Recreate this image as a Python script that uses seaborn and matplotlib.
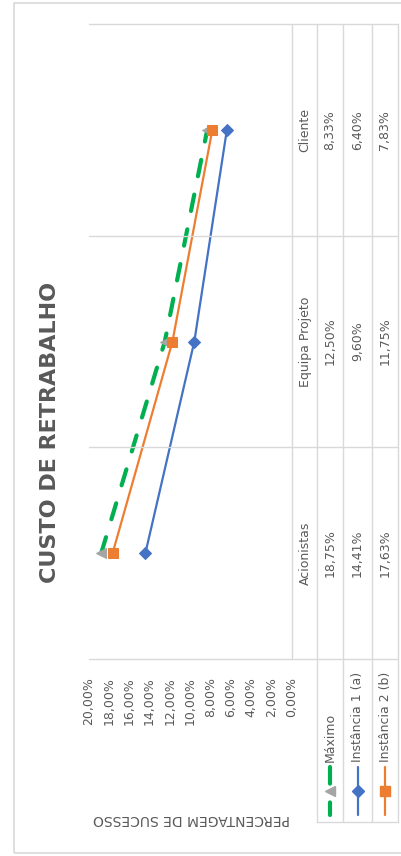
import matplotlib
matplotlib.use("Agg")
import matplotlib.pyplot as plt
from matplotlib.lines import Line2D
from matplotlib.patches import Rectangle
from matplotlib import transforms
import seaborn as sns
import pandas as pd

# ---- data ----
categorias = ["Acionistas", "Equipa Projeto", "Cliente"]
series = ["Máximo", "Instância 1 (a)", "Instância 2 (b)"]
maximo = [18.75, 12.50, 8.33]
instancia1 = [14.41, 9.60, 6.40]
instancia2 = [17.63, 11.75, 7.83]
ticks_pct = [0, 2, 4, 6, 8, 10, 12, 14, 16, 18, 20]
titulo = "CUSTO DE RETRABALHO"
titulo_eixo = "PERCENTAGEM DE SUCESSO"

valores = {"Máximo": maximo, "Instância 1 (a)": instancia1, "Instância 2 (b)": instancia2}
linhas = []
for s in series:
    for i, (c, v) in enumerate(zip(categorias, valores[s])):
        linhas.append({"serie": s, "categoria": c, "pos": i, "valor": v})
df = pd.DataFrame(linhas)

def pct(v):
    return f"{v:.2f}".replace(".", ",") + "%"

# ---- style ----
sns.set_style("white")
plt.rcParams["font.family"] = ["DejaVu Sans"]
CINZA_TXT = "#595959"
CINZA_LIN = "#D9D9D9"

estilos = {
    "Máximo": dict(color="#00B050", lw=3.0, linestyle=(0, (4, 4.5)),
                   dash_capstyle="round", marker="<", ms=6.5,
                   mfc="#A5A5A5", mec="#A5A5A5"),
    "Instância 1 (a)": dict(color="#4472C4", lw=1.6, marker="D", ms=6.2,
                            mfc="#4472C4", mec="#4472C4"),
    "Instância 2 (b)": dict(color="#ED7D31", lw=1.6, marker="s", ms=7,
                            mfc="#ED7D31", mec="#ED7D31"),
}

W, H = 401, 856
fig = plt.figure(figsize=(W / 100, H / 100), dpi=100)

def fx(px):
    return px / W

def fy(py):
    return 1 - py / H

ax = fig.add_axes([fx(88.5), fy(659), fx(292) - fx(88.5), fy(24) - fy(659)])

for s in series:
    sub = df[df["serie"] == s]
    sns.lineplot(data=sub, x="valor", y="pos", orient="y", sort=True,
                 errorbar=None, ax=ax, legend=False, **estilos[s])

ax.set_xlim(20, 0)
ax.set_ylim(-0.5, len(categorias) - 0.5)
ax.set_xticks(ticks_pct)
ax.set_xticklabels([pct(t) for t in ticks_pct], rotation=90, fontsize=9,
                   color=CINZA_TXT)
ax.tick_params(axis="x", length=0, pad=13)
ax.set_yticks([])
ax.set_xlabel("")
ax.set_ylabel("")
for sp in ax.spines.values():
    sp.set_visible(False)

# ---- data table grid ----
bt = transforms.blended_transform_factory(fig.transFigure, ax.transData)
for b in [i - 0.5 for i in range(len(categorias) + 1)]:
    fig.add_artist(Line2D([fx(88.5), fx(398)], [b, b], transform=bt,
                          color=CINZA_LIN, lw=1))
fig.add_artist(Line2D([fx(292), fx(292)], [fy(24), fy(659)],
                      transform=fig.transFigure, color=CINZA_LIN, lw=1))
for xv in [317, 343, 372, 398]:
    fig.add_artist(Line2D([fx(xv), fx(xv)], [fy(24), fy(822)],
                          transform=fig.transFigure, color=CINZA_LIN, lw=1))
fig.add_artist(Line2D([fx(317), fx(398)], [fy(822), fy(822)],
                      transform=fig.transFigure, color=CINZA_LIN, lw=1))

# category headers
for i, c in enumerate(categorias):
    fig.text(fx(305), 0, c, transform=bt, rotation=90, ha="center",
             va="center", fontsize=9, color=CINZA_TXT).set_y(i)

# values and legend keys
col_x = {"Máximo": 330, "Instância 1 (a)": 357.5, "Instância 2 (b)": 385}
for s in series:
    x = fx(col_x[s])
    for i, v in enumerate(valores[s]):
        t = fig.text(x, 0, pct(v), transform=bt, rotation=90, ha="center",
                     va="center", fontsize=9, color=CINZA_TXT)
        t.set_y(i)
    fig.text(x, fy(762), s, rotation=90, ha="center", va="bottom",
             fontsize=9, color=CINZA_TXT)
    st = dict(estilos[s])
    mk = dict(marker=st.pop("marker"), ms=st.pop("ms"), mfc=st.pop("mfc"),
              mec=st.pop("mec"))
    fig.add_artist(Line2D([x, x], [fy(767), fy(815)],
                          transform=fig.transFigure, **st))
    fig.add_artist(Line2D([x], [fy(791)], transform=fig.transFigure,
                          linestyle="none", **mk))

# titles
fig.text(fx(50), fy(432), titulo, rotation=90, ha="center", va="center",
         fontsize=16, fontweight="bold", color=CINZA_TXT)
fig.text(fx(191), fy(819), titulo_eixo, rotation=180, ha="center",
         va="center", fontsize=10, color=CINZA_TXT)

# chart border
fig.add_artist(Rectangle((fx(14), fy(853)), fx(420) - fx(14),
                         fy(3) - fy(853), transform=fig.transFigure,
                         fill=False, ec=CINZA_LIN, lw=1.2))

fig.savefig("out.png", dpi=100)
